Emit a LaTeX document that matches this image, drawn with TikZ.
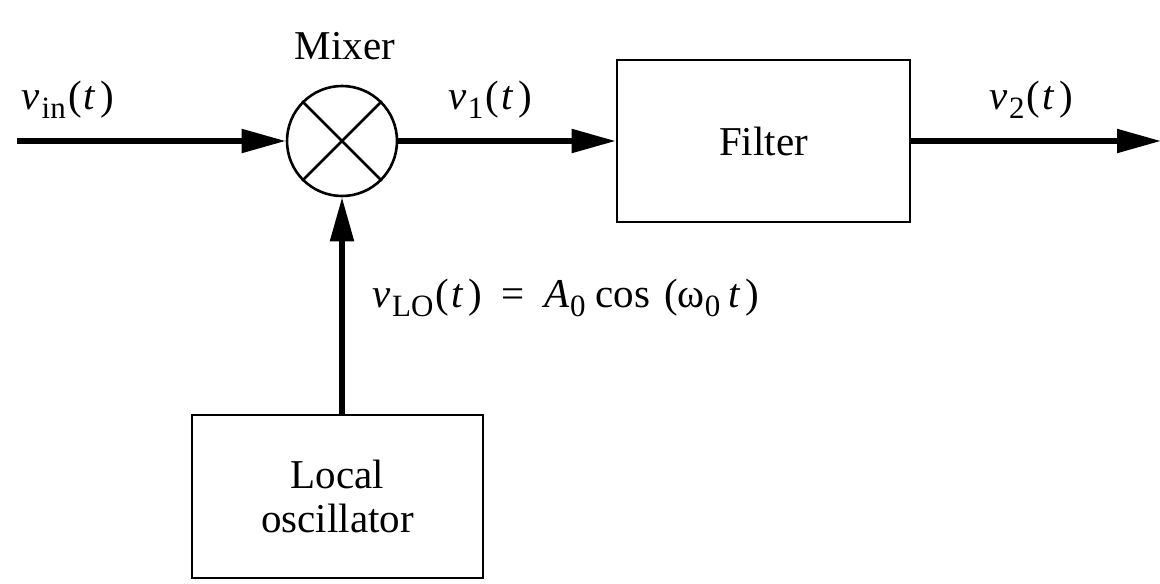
\documentclass[tikz,border=0pt]{standalone}
\usepackage{fontspec}
\setmainfont{Liberation Serif}
\usetikzlibrary{arrows.meta}
\newcommand\mysub[1]{\raisebox{-0.45ex}{\fontsize{15.5}{16}\selectfont #1}}
\newcommand\vsig[1]{\textit{v}\kern0.8pt\mysub{#1}\kern1.2pt(\kern1pt\textit{t}\kern2.2pt)}
\begin{document}
\begin{tikzpicture}[x=0.5pt,y=-0.5pt,
  every node/.style={font=\fontsize{20.5}{24}\selectfont},
  blk/.style={draw,line width=1.3pt,rectangle,inner sep=0pt},
  sig/.style={line width=2.6pt,-{Triangle[length=22pt,width=11.5pt]}},
  lab/.style={inner sep=0pt}]
\useasboundingbox (0,0) rectangle (1160,583);
\node[draw,circle,line width=1.3pt,minimum size=55pt,inner sep=0pt] (mix) at (342,141) {};
\draw[line width=1.3pt] (mix.north west) -- (mix.south east) (mix.north east) -- (mix.south west);
\node[blk,minimum width=146.5pt,minimum height=81pt] (filt) at (763.5,141) {Filter};
\node[blk,minimum width=145.5pt,minimum height=81.5pt,align=center] (lo) at (337.5,496.5) {Local\\[-2pt]oscillator};
\coordinate (in) at (17,141);
\coordinate (out) at (1161,141);
\draw[sig] (in) -- (mix.west);
\draw[sig] (mix.east) -- (filt.west);
\draw[sig] (filt.east) -- (out);
\draw[sig] (lo.north -| mix.south) -- (mix.south);
\node[lab] (mixl) at (345,46) {Mixer};
\node[lab] (vin) at (68,100) {\vsig{in}};
\node[lab] (v1) at (490,100) {\vsig{1}};
\node[lab] (v2) at (1031,100) {\vsig{2}};
\node[lab,anchor=west] (vlo) at (372,298) {\vsig{LO}\hspace{10pt}=\hspace{10pt}\textit{A}\mysub{0}\hspace{5pt}cos\hspace{7pt}(ω\mysub{0}\hspace{4pt}\textit{t}\kern2.5pt)};
\end{tikzpicture}
\end{document}
